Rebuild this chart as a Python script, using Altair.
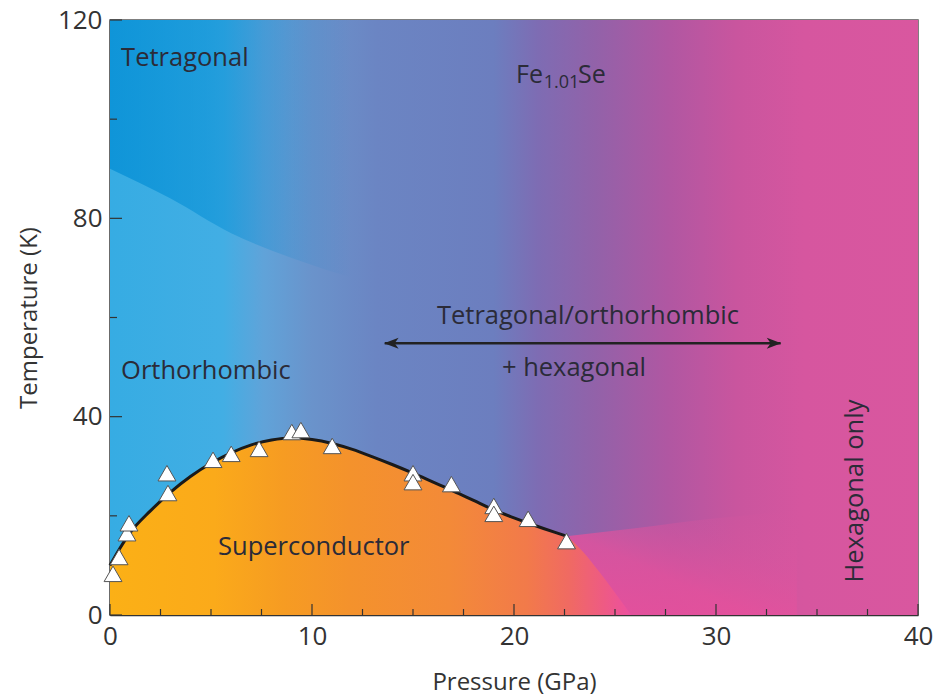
import altair as alt
import pandas as pd

# ---------------- data ----------------
pressure_pts = [0.15, 0.45, 0.84, 0.94, 2.87, 2.82, 5.1, 6.0, 7.38, 9.0, 9.45, 11.0,
                15.0, 15.0, 16.9, 19.0, 19.0, 20.7, 22.6]
tc_pts = [8.3, 11.7, 16.5, 18.5, 24.6, 28.6, 31.3, 32.5, 33.5, 36.9, 37.3, 34.1,
          28.6, 26.8, 26.4, 22.0, 20.4, 19.4, 14.9]

curve_p = [0, 0.5, 1, 2, 3, 4, 5, 6, 7, 8, 9, 10, 11, 12, 13, 14, 15, 16, 17, 18,
           19, 20, 21, 22, 22.6]
curve_t = [10.0, 13.5, 16.6, 21.0, 24.8, 28.0, 30.6, 32.7, 34.3, 35.3, 35.7, 35.4,
           34.6, 33.4, 31.9, 30.3, 28.6, 26.8, 25.0, 23.1, 21.2, 19.6, 18.1, 16.7, 15.9]
ext_p = [23.4, 24.2, 25.0, 25.8]
ext_t = [12.8, 8.8, 4.5, 0.0]

# pink fan to the right of the superconducting dome
fan_p = [22.6, 26, 30, 34]
fan_t = [15.9, 17.5, 19.5, 21.0]

# darker tetragonal corner
corner_p = [0, 3, 6, 9, 12]
corner_t = [90, 84, 77, 72, 68]

x_ticks = [0, 10, 20, 30, 40]
x_minor = [2.5, 5, 7.5, 12.5, 15, 17.5, 22.5, 25, 27.5, 32.5, 35, 37.5]
y_ticks = [0, 40, 80, 120]
y_minor = [20, 60, 100]

labels_left = ["Tetragonal", "Orthorhombic", "Superconductor"]
labels_left_p = [0.55, 0.55, 5.35]
labels_left_t = [112.3, 49.2, 13.7]

labels_mid = ["Tetragonal/orthorhombic", "+ hexagonal"]
labels_mid_p = [23.66, 22.97]
labels_mid_t = [60.3, 49.8]

arrow_p = [13.6, 33.2]
arrow_t = [54.8, 54.8]

W, H = 808, 595
FONT = "Open Sans"
TXT = "#2b2b38"
FS = 25.5

xs = alt.Scale(domain=[0, 40], nice=False, zero=False)
ys = alt.Scale(domain=[0, 120], nice=False, zero=False)

def grad(stops, x1=0, y1=0, x2=1, y2=0):
    return alt.Gradient(gradient="linear",
                        stops=[alt.GradientStop(color=c, offset=o) for o, c in stops],
                        x1=x1, y1=y1, x2=x2, y2=y2)

# background
bg_df = pd.DataFrame({"p": [0], "p2": [40], "t": [0], "t2": [120]})
bg = alt.Chart(bg_df).mark_rect(
    color=grad([(0.0, "#36ace3"), (0.14, "#42aee4"), (0.19, "#60a3d9"),
                (0.25, "#6a93cb"), (0.33, "#6b85c3"), (0.475, "#6c7ebf"),
                (0.53, "#7e6cb3"), (0.6, "#9262a9"), (0.69, "#b057a2"),
                (0.775, "#c9559e"), (0.86, "#d6569f"), (1.0, "#d9579f")])
).encode(
    x=alt.X("p:Q", scale=xs, axis=alt.Axis(values=x_ticks, title="Pressure (GPa)")),
    x2="p2", y=alt.Y("t:Q", scale=ys, axis=alt.Axis(values=y_ticks, title="Temperature (K)")),
    y2="t2")

corner_df = pd.DataFrame({"p": corner_p, "t": corner_t})
corner = alt.Chart(corner_df).mark_area(
    interpolate="monotone",
    color=grad([(0.0, "rgba(0,140,212,0.72)"), (0.4, "rgba(0,140,212,0.52)"),
                (0.75, "rgba(0,130,205,0.15)"), (1.0, "rgba(0,120,200,0)")])
).encode(x=alt.X("p:Q", scale=xs), y=alt.Y("t:Q", scale=ys), y2=alt.datum(120))

fan_df = pd.DataFrame({"p": fan_p, "t": fan_t})
fan = alt.Chart(fan_df).mark_area(
    interpolate="monotone",
    color=grad([(0.0, "rgba(236,78,154,0.95)"), (0.4, "rgba(234,80,156,0.75)"),
                (0.7, "rgba(224,84,158,0.3)"), (1.0, "rgba(216,87,159,0)")],
               0, 1, 1, 0)
).encode(x=alt.X("p:Q", scale=xs), y=alt.Y("t:Q", scale=ys), y2=alt.datum(0))

# superconductor area
area_df = pd.DataFrame({"p": curve_p + ext_p, "t": curve_t + ext_t})
sc_area = alt.Chart(area_df).mark_area(
    interpolate="monotone",
    color=grad([(0.0, "#fbb016"), (0.2, "#fbaa1a"), (0.33, "#f69c22"),
                (0.46, "#f4922c"), (0.65, "#f38a38"), (0.8, "#f27a4a"),
                (0.88, "#f06a62"), (0.95, "#ee5a85"), (1.0, "#ec50a0")])
).encode(x=alt.X("p:Q", scale=xs), y=alt.Y("t:Q", scale=ys), y2=alt.datum(0))

curve_df = pd.DataFrame({"p": curve_p, "t": curve_t})
curve = alt.Chart(curve_df).mark_line(
    interpolate="monotone", color="#1a1a1a", strokeWidth=3
).encode(x=alt.X("p:Q", scale=xs), y=alt.Y("t:Q", scale=ys))

pts_df = pd.DataFrame({"p": pressure_pts, "t": tc_pts})
pts = alt.Chart(pts_df).mark_point(
    shape="triangle-up", filled=True, fill="white", stroke="#555555",
    strokeWidth=1, size=320, opacity=1
).encode(x=alt.X("p:Q", scale=xs), y=alt.Y("t:Q", scale=ys))

# ticks (inward)
xt_major = alt.Chart(pd.DataFrame({"p": x_ticks})).mark_rule(color="#333", strokeWidth=1.2).encode(
    x=alt.X("p:Q", scale=xs), y=alt.value(H), y2=alt.value(H - 11))
xt_minor = alt.Chart(pd.DataFrame({"p": x_minor})).mark_rule(color="#333", strokeWidth=1.2).encode(
    x=alt.X("p:Q", scale=xs), y=alt.value(H), y2=alt.value(H - 6))
yt_major = alt.Chart(pd.DataFrame({"t": y_ticks})).mark_rule(color="#333", strokeWidth=1.2).encode(
    y=alt.Y("t:Q", scale=ys), x=alt.value(0), x2=alt.value(12))
yt_minor = alt.Chart(pd.DataFrame({"t": y_minor})).mark_rule(color="#333", strokeWidth=1.2).encode(
    y=alt.Y("t:Q", scale=ys), x=alt.value(0), x2=alt.value(7))

# text labels
tl_df = pd.DataFrame({"p": labels_left_p, "t": labels_left_t, "txt": labels_left})
text_left = alt.Chart(tl_df).mark_text(
    align="left", baseline="middle", font=FONT, fontSize=FS, color=TXT
).encode(x=alt.X("p:Q", scale=xs), y=alt.Y("t:Q", scale=ys), text="txt:N")

tm_df = pd.DataFrame({"p": labels_mid_p, "t": labels_mid_t, "txt": labels_mid})
text_mid = alt.Chart(tm_df).mark_text(
    align="center", baseline="middle", font=FONT, fontSize=FS, color=TXT
).encode(x=alt.X("p:Q", scale=xs), y=alt.Y("t:Q", scale=ys), text="txt:N")

hex_df = pd.DataFrame({"p": [36.9], "t": [25.0], "txt": ["Hexagonal only"]})
text_hex = alt.Chart(hex_df).mark_text(
    align="center", baseline="middle", font=FONT, fontSize=FS, color=TXT, angle=270
).encode(x=alt.X("p:Q", scale=xs), y=alt.Y("t:Q", scale=ys), text="txt:N")

# Fe1.01Se formula
fe_df = pd.DataFrame({"p": [20.1, 21.47, 23.17], "t": [109.0, 107.3, 109.0],
                      "txt": ["Fe", "1.01", "Se"], "fs": [25, 18, 25]})
text_fe = alt.Chart(fe_df).mark_text(
    align="left", baseline="middle", font=FONT, color=TXT
).encode(x=alt.X("p:Q", scale=xs), y=alt.Y("t:Q", scale=ys), text="txt:N",
         size=alt.Size("fs:Q", scale=None, legend=None))

# arrow
arr_df = pd.DataFrame({"p": arrow_p, "t": arrow_t})
arrow_line = alt.Chart(arr_df).mark_line(color="#222222", strokeWidth=2.5).encode(
    x=alt.X("p:Q", scale=xs), y=alt.Y("t:Q", scale=ys))
head_r = alt.Chart(pd.DataFrame({"p": [arrow_p[1] - 0.33], "t": [arrow_t[1]]})).mark_point(
    shape="M1,0 L-1,-0.75 L-0.45,0 L-1,0.75 Z", filled=True, color="#222222", size=210, opacity=1
).encode(x=alt.X("p:Q", scale=xs), y=alt.Y("t:Q", scale=ys))
head_l = alt.Chart(pd.DataFrame({"p": [arrow_p[0] + 0.33], "t": [arrow_t[0]]})).mark_point(
    shape="M-1,0 L1,-0.75 L0.45,0 L1,0.75 Z", filled=True, color="#222222", size=210, opacity=1
).encode(x=alt.X("p:Q", scale=xs), y=alt.Y("t:Q", scale=ys))

chart = alt.layer(
    bg, corner, fan, sc_area, curve, pts, xt_major, xt_minor, yt_major, yt_minor,
    text_left, text_mid, text_hex, text_fe, arrow_line, head_r, head_l
).properties(
    width=W, height=H,
    autosize=alt.AutoSizeParams(type="none"),
    padding={"left": 110, "top": 20, "right": 20, "bottom": 82},
    background="white"
).configure_view(
    stroke="#555555", strokeWidth=1.5
).configure_axis(
    grid=False, domain=True, domainColor="#333333", domainWidth=1.5,
    ticks=False, tickSize=0,
    labelFont=FONT, labelFontSize=26, labelColor="#333333",
    titleFont=FONT, titleFontSize=24, titleFontWeight="normal", titleColor="#333333"
).configure_axisX(
    labelPadding=8, titlePadding=21, labelFlush=False
).configure_axisY(
    labelPadding=8, titlePadding=16
)

chart.save("out.html", embed_options={"renderer": "svg", "actions": False})
